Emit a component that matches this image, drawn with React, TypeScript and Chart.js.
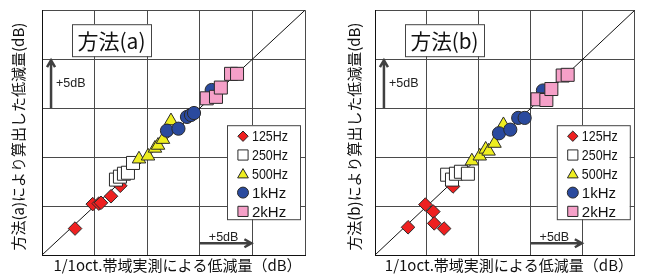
import React, { useEffect, useRef } from 'react';
import { Chart, registerables } from 'chart.js';

Chart.register(...registerables);

// ---- data ----
const seriesLabels = ['125Hz', '250Hz', '500Hz', '1kHz', '2kHz'];
const axisMax = 25;
const gridStep = 5;

const a125: [number, number][] = [[3.14, 2.7], [4.82, 5.2], [5.4, 5.25], [5.61, 5.33], [6.56, 6.0], [7.44, 7.07]];
const a250: [number, number][] = [[7.03, 7.7], [7.41, 8.0], [7.79, 8.3], [8.17, 8.4], [8.65, 9.4]];
const a500: [number, number][] = [[9.22, 9.8], [10.08, 10.1], [10.74, 10.9], [11.03, 11.2], [11.5, 11.8], [12.26, 13.7]];
const a1k: [number, number][] = [[11.88, 12.7], [12.97, 12.9], [13.78, 14.1], [14.16, 14.3], [14.45, 14.5], [16.13, 16.85]];
const a2k: [number, number][] = [[15.66, 16.0], [16.54, 16.15], [17.0, 17.1], [17.97, 18.5], [18.54, 18.5]];

const b125: [number, number][] = [[3.18, 2.83], [4.85, 5.15], [5.61, 4.43], [5.7, 3.23], [6.65, 2.7], [7.51, 7.0]];
const b250: [number, number][] = [[6.94, 8.2], [7.41, 7.7], [7.79, 8.3], [8.27, 8.5], [8.94, 8.3]];
const b500: [number, number][] = [[9.32, 9.6], [10.08, 10.1], [10.65, 10.8], [10.93, 10.6], [11.5, 11.4], [12.36, 13.3]];
const b1k: [number, number][] = [[11.93, 12.43], [13.02, 12.8], [13.78, 14.0], [14.4, 14.0], [16.16, 16.8]];
const b2k: [number, number][] = [[15.64, 15.9], [16.49, 15.83], [16.97, 16.95], [18.06, 18.33], [18.54, 18.4]];

const xTitle = '1/1oct.帯域実測による低減量（dB）';
const panelA = { label: '方法(a)', yTitle: '方法(a)により算出した低減量(dB)', series: [a125, a250, a500, a1k, a2k] };
const panelB = { label: '方法(b)', yTitle: '方法(b)により算出した低減量(dB)', series: [b125, b250, b500, b1k, b2k] };

// ---- styles ----
const markerStyles = [
  { pointStyle: 'rectRot', radius: 6.8, fill: '#ee2020' },
  { pointStyle: 'rect', radius: 9.2, fill: '#ffffff' },
  { pointStyle: 'triangle', radius: 7.8, fill: '#eeee20' },
  { pointStyle: 'circle', radius: 6.6, fill: '#2a4a9e' },
  { pointStyle: 'rect', radius: 9.2, fill: '#f5a0c8' },
];
const markerBorder = '#2a2a2a';
const jpFont = '"Noto Sans CJK JP", "Noto Sans", sans-serif';
const latinFont = '"Liberation Sans", Arial, sans-serif';
const arrowColor = '#404040';

function drawMarker(ctx: CanvasRenderingContext2D, style: string, x: number, y: number, r: number, fill: string) {
  ctx.beginPath();
  if (style === 'rectRot') {
    ctx.moveTo(x - r, y); ctx.lineTo(x, y - r); ctx.lineTo(x + r, y); ctx.lineTo(x, y + r); ctx.closePath();
  } else if (style === 'rect') {
    const s = r * Math.SQRT1_2;
    ctx.rect(x - s, y - s, 2 * s, 2 * s);
  } else if (style === 'triangle') {
    for (let i = 0; i < 3; i++) {
      const a = (i * 2 * Math.PI) / 3;
      const px = x + Math.sin(a) * r;
      const py = y - Math.cos(a) * r;
      if (i === 0) ctx.moveTo(px, py); else ctx.lineTo(px, py);
    }
    ctx.closePath();
  } else {
    ctx.arc(x, y, r, 0, Math.PI * 2);
  }
  ctx.fillStyle = fill;
  ctx.fill();
  ctx.strokeStyle = markerBorder;
  ctx.lineWidth = 1;
  ctx.stroke();
}

function makePlugin(panel: { label: string; yTitle: string }, yTitleX: number) {
  return {
    id: 'annotations',
    afterDraw(chart: any) {
      const ctx: CanvasRenderingContext2D = chart.ctx;
      const ca = chart.chartArea;
      const xs = chart.scales.x;
      const ys = chart.scales.y;
      ctx.save();

      // up arrow (+5dB)
      const ax = xs.getPixelForValue(0.86);
      const ay0 = ys.getPixelForValue(15);
      const ay1 = ys.getPixelForValue(20) + 1;
      ctx.strokeStyle = arrowColor;
      ctx.lineWidth = 2.5;
      ctx.beginPath();
      ctx.moveTo(ax, ay0); ctx.lineTo(ax, ay1);
      ctx.moveTo(ax - 4, ay1 + 7); ctx.lineTo(ax, ay1); ctx.lineTo(ax + 4, ay1 + 7);
      ctx.stroke();
      ctx.fillStyle = '#222';
      ctx.font = '12.5px ' + latinFont;
      ctx.textAlign = 'left';
      ctx.textBaseline = 'middle';
      ctx.fillText('+5dB', ax + 5, ys.getPixelForValue(17.5));

      // right arrow (+5dB)
      const rx0 = xs.getPixelForValue(15);
      const rx1 = xs.getPixelForValue(20) - 1;
      const ry = ys.getPixelForValue(1.2);
      ctx.beginPath();
      ctx.moveTo(rx0, ry); ctx.lineTo(rx1, ry);
      ctx.moveTo(rx1 - 7, ry - 4); ctx.lineTo(rx1, ry); ctx.lineTo(rx1 - 7, ry + 4);
      ctx.stroke();
      ctx.textAlign = 'center';
      ctx.textBaseline = 'alphabetic';
      ctx.fillText('+5dB', (rx0 + rx1) / 2 - 2, ry - 2);

      // panel label box
      const bx = ca.left + 30, by = ca.top + 14, bw = 79, bh = 32;
      ctx.fillStyle = '#fff';
      ctx.fillRect(bx, by, bw, bh);
      ctx.strokeStyle = '#444';
      ctx.lineWidth = 1;
      ctx.strokeRect(bx + 0.5, by + 0.5, bw, bh);
      ctx.fillStyle = '#111';
      ctx.font = '21px ' + jpFont;
      ctx.textAlign = 'center';
      ctx.textBaseline = 'middle';
      ctx.fillText(panel.label, bx + bw / 2, by + bh / 2 + 1, 68);

      // legend
      const lx = ca.right - 78, ly = ca.top + 115, lw = 73, lh = 94;
      ctx.fillStyle = '#fff';
      ctx.fillRect(lx, ly, lw, lh);
      ctx.strokeStyle = '#444';
      ctx.strokeRect(lx + 0.5, ly + 0.5, lw, lh);
      seriesLabels.forEach((lab, i) => {
        const yy = ly + 11 + i * 18.8;
        const m = markerStyles[i];
        const rr = m.pointStyle === 'rect' ? 7.2 : m.pointStyle === 'triangle' ? 6.2 : m.pointStyle === 'circle' ? 5.5 : 5.2;
        drawMarker(ctx, m.pointStyle, lx + 16, yy + (m.pointStyle === 'triangle' ? 1 : 0), rr, m.fill);
        ctx.fillStyle = '#111';
        ctx.font = '15px ' + latinFont;
        ctx.textAlign = 'left';
        ctx.textBaseline = 'middle';
        ctx.fillText(lab, lx + 25, yy + 1, 36);
      });

      // axis titles
      ctx.fillStyle = '#111';
      ctx.font = '15px ' + jpFont;
      ctx.textAlign = 'center';
      ctx.textBaseline = 'middle';
      ctx.fillText(xTitle, (ca.left + ca.right) / 2 + 4, 265, 249);
      ctx.save();
      ctx.translate(yTitleX, (ca.top + ca.bottom) / 2 + 4);
      ctx.rotate(-Math.PI / 2);
      ctx.fillText(panel.yTitle, 0, 0, 228);
      ctx.restore();

      ctx.restore();
    },
  };
}

function Panel({ panel, width, padLeft, padRight, yTitleX }: any) {
  const ref = useRef<HTMLCanvasElement>(null);
  useEffect(() => {
    if (!ref.current) return;
    const datasets: any[] = panel.series.map((pts: [number, number][], i: number) => ({
      type: 'scatter',
      label: seriesLabels[i],
      data: pts.map(([x, y]) => ({ x, y })),
      pointStyle: markerStyles[i].pointStyle,
      pointRadius: markerStyles[i].radius,
      pointBackgroundColor: markerStyles[i].fill,
      pointBorderColor: markerBorder,
      pointBorderWidth: 1,
      order: 5 - i,
    }));
    datasets.push({
      type: 'line',
      label: 'diag',
      data: [{ x: 0, y: 0 }, { x: axisMax, y: axisMax }],
      borderColor: '#111',
      borderWidth: 1,
      pointRadius: 0,
      order: 20,
    });
    const chart = new Chart(ref.current, {
      type: 'scatter',
      data: { datasets },
      options: {
        responsive: false,
        animation: false,
        devicePixelRatio: 1,
        layout: { padding: { left: padLeft, right: padRight, top: 5, bottom: 22 } },
        plugins: { legend: { display: false }, tooltip: { enabled: false } },
        scales: {
          x: {
            type: 'linear', min: 0, max: axisMax,
            ticks: { display: false, stepSize: gridStep },
            grid: { color: '#4a4a4a', lineWidth: 1, drawTicks: false },
            border: { color: '#111', width: 1 },
            afterFit: (s: any) => { s.height = 0; },
          },
          y: {
            type: 'linear', min: 0, max: axisMax,
            ticks: { display: false, stepSize: gridStep },
            grid: { color: '#4a4a4a', lineWidth: 1, drawTicks: false },
            border: { color: '#111', width: 1 },
            afterFit: (s: any) => { s.width = 0; },
          },
        },
      } as any,
      plugins: [makePlugin(panel, yTitleX)],
    });
    return () => chart.destroy();
  }, []);
  return <canvas ref={ref} width={width} height={277} style={{ display: 'block', width, height: 277 }} />;
}

export default function App() {
  return (
    <div style={{ position: 'absolute', left: 0, top: 0, width: 645, height: 277, display: 'flex', background: '#fff' }}>
      <Panel panel={panelA} width={322} padLeft={42} padRight={17} yTitleX={18} />
      <Panel panel={panelB} width={323} padLeft={53} padRight={7} yTitleX={32} />
    </div>
  );
}
